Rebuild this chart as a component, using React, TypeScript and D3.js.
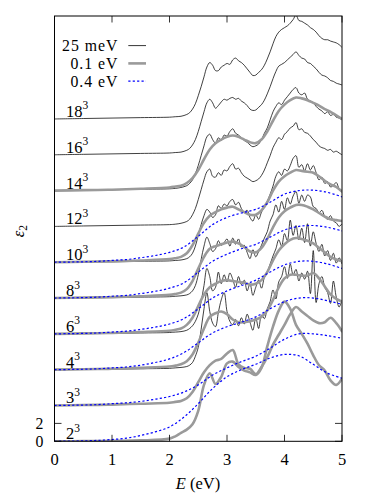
import * as d3 from 'd3';

// energy grids (eV)
const energyFine = [0, 0.5, 1, 1.5, 2, 2.1, 2.2,
  2.3, 2.35, 2.4, 2.45, 2.5, 2.55, 2.6, 2.65, 2.7, 2.75,
  2.8, 2.85, 2.9, 2.95, 3, 3.05, 3.1, 3.15, 3.2, 3.25,
  3.3, 3.35, 3.4, 3.45, 3.5, 3.55, 3.6, 3.65, 3.7, 3.75,
  3.8, 3.85, 3.9, 3.95, 4, 4.05, 4.1, 4.15, 4.2, 4.25,
  4.3, 4.35, 4.4, 4.45, 4.5, 4.55, 4.6, 4.65, 4.7, 4.75,
  4.8, 4.85, 4.9, 4.95, 5];
const energyGray = [0, 0.5, 1, 1.5,
  2, 2.1, 2.2, 2.3, 2.4, 2.5, 2.6, 2.7, 2.8, 2.9,
  3, 3.1, 3.2, 3.3, 3.4, 3.5, 3.6, 3.7, 3.8, 3.9,
  4, 4.1, 4.2, 4.3, 4.4, 4.5, 4.6, 4.7, 4.8, 4.9, 5];
const energyBlue = [0, 0.25, 0.5, 0.75, 1, 1.25, 1.5, 1.75, 2, 2.25, 2.5,
  2.75, 3, 3.25, 3.5, 3.75, 4, 4.25, 4.5, 4.75, 5];

// k-point grids and their vertical offsets
const gridLabels = ['2', '3', '4', '6', '8', '10', '12', '14', '16', '18'];
const gridOffsets = [0, 4, 8, 12, 16, 20, 24, 28, 32, 36];

// 25 meV broadening
const black18 = [0, 0.05, 0.1, 0.15, 0.2, 0.25, 0.3,
  0.5, 0.7, 1.1, 1.7, 2.6, 3.6, 4.7, 5.8, 6.3, 6.0,
  5.4, 5.4, 5.8, 6.0, 6.2, 6.1, 6.6, 6.8, 6.5, 6.3,
  6.0, 5.6, 5.2, 4.85, 4.9, 5.2, 5.5, 6.0, 6.7, 7.5,
  8.4, 9.2, 9.7, 10.0, 10.2, 10.4, 10.7, 11.1, 11.6, 11.0,
  10.9, 10.7, 10.5, 10.2, 10.0, 9.7, 9.3, 9.0, 8.85, 8.85,
  8.7, 8.6, 8.5, 8.3, 8.0];
const black16 = [0, 0.05, 0.1, 0.15, 0.2, 0.25, 0.3,
  0.5, 0.7, 1.1, 1.7, 2.6, 3.7, 4.8, 5.8, 6.2, 5.8,
  5.2, 5.5, 5.9, 6.2, 6.1, 6.3, 6.4, 6.2, 6.3, 6.0,
  5.8, 5.5, 5.1, 4.95, 5.0, 5.3, 5.6, 6.1, 6.8, 7.6,
  8.5, 9.3, 9.9, 10.1, 10.3, 10.6, 10.9, 11.2, 11.5, 11.1,
  10.8, 10.7, 10.3, 10.2, 9.9, 9.6, 9.2, 8.9, 8.8, 8.6,
  8.3, 8.2, 8.0, 7.9, 7.8];
const black14 = [0, 0.05, 0.1, 0.15, 0.2, 0.25, 0.35,
  0.55, 0.8, 1.2, 1.9, 2.8, 3.9, 5.0, 6.0, 6.3, 5.7,
  5.3, 5.9, 5.6, 6.2, 6.1, 6.6, 6.9, 6.4, 6.2, 5.9,
  5.6, 5.4, 5.1, 4.9, 5.0, 5.2, 5.7, 6.4, 7.0, 7.9,
  8.8, 9.4, 9.8, 9.6, 10.1, 10.5, 10.9, 11.3, 11.5, 10.9,
  10.7, 10.9, 10.2, 10.0, 9.8, 9.4, 9.1, 8.9, 8.6, 8.8,
  8.4, 8.5, 8.2, 8.1, 7.9];
const black12 = [0, 0.05, 0.1, 0.15, 0.2, 0.25, 0.35,
  0.55, 0.8, 1.3, 2.0, 3.0, 4.1, 5.2, 6.1, 6.4, 5.6,
  5.5, 6.0, 5.7, 6.3, 6.2, 6.7, 7.0, 6.4, 6.5, 6.0,
  5.6, 5.4, 5.2, 5.0, 5.1, 5.3, 5.7, 6.3, 7.1, 7.9,
  8.8, 9.4, 9.9, 9.7, 10.3, 10.6, 11.0, 11.2, 11.6, 10.8,
  10.9, 10.5, 10.4, 10.1, 9.7, 9.4, 9.0, 8.8, 8.7, 8.5,
  8.6, 8.3, 8.4, 8.2, 8.0];
const black10 = [0, 0.02, 0.05, 0.1, 0.15, 0.2, 0.25,
  0.4, 0.6, 1.0, 1.8, 3.0, 4.2, 5.2, 5.9, 5.6, 5.0,
  5.3, 6.3, 6.0, 6.5, 6.3, 6.8, 7.0, 6.4, 6.7, 6.0,
  5.6, 5.8, 5.0, 4.6, 5.3, 4.8, 5.6, 6.2, 6.8, 7.6,
  8.5, 9.6, 10.1, 9.7, 10.4, 10.2, 10.8, 11.6, 11.9, 10.6,
  10.9, 10.2, 11.0, 10.3, 10.8, 10.0, 9.2, 9.5, 8.8, 9.0,
  8.4, 8.6, 8.9, 8.2, 7.9];
const black8 = [0, 0.02, 0.05, 0.1, 0.15, 0.2, 0.25,
  0.35, 0.5, 0.8, 1.4, 2.6, 4.3, 5.8, 6.8, 6.1, 5.2,
  5.5, 6.4, 5.9, 6.2, 6.6, 5.8, 6.7, 6.0, 6.6, 5.7,
  5.9, 5.1, 4.4, 5.4, 4.6, 5.2, 5.9, 6.7, 7.4, 8.6,
  9.3, 10.4, 9.6, 10.8, 9.9, 11.2, 10.5, 11.4, 11.9, 10.6,
  11.5, 10.8, 11.5, 11.3, 10.2, 10.0, 9.5, 9.8, 9.1, 8.8,
  9.2, 8.6, 8.4, 8.0, 8.3];
const black6 = [0, 0.02, 0.05, 0.1, 0.15, 0.2, 0.25,
  0.4, 0.6, 0.9, 1.4, 2.2, 3.6, 5.4, 7.3, 6.4, 4.8,
  5.2, 6.9, 5.6, 6.6, 5.8, 6.8, 6.1, 5.2, 6.4, 5.5,
  6.0, 4.8, 5.6, 4.3, 5.2, 6.0, 5.1, 6.3, 6.9, 7.8,
  8.7, 9.5, 10.5, 9.8, 11.2, 10.4, 12.7, 11.0, 12.1, 10.5,
  11.8, 10.2, 12.3, 9.8, 11.4, 10.1, 9.2, 10.0, 8.7, 9.3,
  8.2, 9.0, 7.9, 8.5, 7.8];
const black4 = [0, 0.02, 0.05, 0.1, 0.15, 0.2, 0.25,
  0.35, 0.5, 0.8, 1.5, 2.5, 4.5, 6.8, 8.6, 6.5, 5.2,
  4.8, 6.4, 7.8, 8.6, 6.5, 5.4, 5.0, 5.6, 4.9, 5.8,
  5.1, 6.2, 5.3, 4.4, 5.8, 4.6, 6.1, 5.7, 6.8, 7.6,
  8.9, 7.9, 9.8, 10.4, 11.5, 10.2, 11.8, 10.6, 11.2, 9.9,
  10.8, 10.1, 11.0, 8.5, 13.3, 7.5, 9.6, 10.4, 9.2, 8.6,
  7.4, 9.9, 8.1, 7.0, 7.8];

// 0.1 eV broadening
const gray14 = [0, 0.05, 0.1, 0.2,
  0.35, 0.45, 0.55, 0.85, 1.4, 2.3, 3.5, 4.6, 5.3, 5.7,
  6.0, 6.15, 6.0, 5.7, 5.4, 5.3, 5.7, 6.6, 7.8, 8.9,
  9.6, 10.1, 10.4, 10.3, 10.1, 9.8, 9.5, 9.1, 8.8, 8.4, 8.0];
const gray10 = [0, 0.05, 0.1, 0.2,
  0.35, 0.45, 0.6, 1.0, 1.9, 3.2, 4.4, 5.2, 5.6, 5.9,
  6.1, 6.2, 5.9, 5.6, 5.3, 5.3, 5.8, 6.7, 8.0, 9.0,
  9.6, 10.0, 10.3, 10.2, 10.1, 10.0, 9.6, 9.1, 8.7, 8.4, 7.9];
const gray8 = [0, 0.05, 0.1, 0.2,
  0.35, 0.45, 0.6, 1.0, 1.9, 3.3, 4.6, 5.5, 5.8, 6.0,
  6.2, 6.3, 6.1, 5.7, 5.2, 5.1, 5.6, 6.6, 7.9, 9.0,
  9.7, 10.1, 10.4, 10.4, 10.2, 9.9, 9.5, 9.1, 8.8, 8.7, 8.6];
const gray6 = [0, 0.05, 0.1, 0.2,
  0.35, 0.45, 0.6, 1.0, 1.8, 3.1, 4.4, 5.2, 5.6, 5.9,
  6.0, 5.9, 5.8, 5.7, 5.5, 5.6, 6.0, 6.9, 8.2, 9.3,
  10.0, 10.5, 10.7, 10.6, 10.4, 10.1, 9.6, 9.1, 8.6, 8.3, 8.1];
const gray4 = [0, 0.05, 0.1, 0.2,
  0.35, 0.45, 0.6, 0.95, 1.7, 3.0, 4.6, 5.9, 6.3, 6.5,
  6.2, 5.6, 5.3, 5.3, 5.4, 5.6, 5.9, 6.6, 7.8, 9.2,
  10.2, 10.6, 10.6, 10.5, 10.5, 10.8, 10.2, 9.3, 8.4, 7.9, 7.6];
const gray3 = [0, 0.05, 0.1, 0.2,
  0.3, 0.4, 0.5, 0.8, 1.5, 2.6, 3.7, 4.5, 5.0, 5.2,
  5.8, 6.2, 4.6, 4.2, 4.1, 3.5, 4.3, 5.4, 6.8, 7.9,
  9.0, 10.2, 11.0, 10.5, 10.0, 9.5, 9.2, 9.3, 9.8, 9.2, 8.3];
const gray2 = [0, 0.02, 0.05, 0.1,
  0.3, 0.55, 0.95, 1.3, 1.9, 3.4, 6.3, 7.6, 6.4, 7.2,
  8.7, 8.9, 8.3, 7.9, 7.7, 7.4, 8.2, 10.6, 12.8, 14.6,
  15.6, 14.8, 13.0, 12.0, 10.9, 9.6, 8.5, 7.9, 6.8, 6.3, 7.0];

// 0.4 eV broadening
const blue10 = [0, 0.02, 0.05, 0.1, 0.2, 0.3, 0.5, 0.75, 1.1, 1.7, 2.9,
  4.2, 5.0, 5.5, 5.9, 6.7, 7.6, 8.0, 8.05, 7.8, 7.3];
const blue8 = [0, 0.02, 0.05, 0.1, 0.2, 0.3, 0.5, 0.75, 1.1, 1.7, 2.9,
  4.1, 4.9, 5.5, 6.0, 6.8, 7.6, 8.0, 8.1, 7.9, 7.5];
const blue6 = [0, 0.02, 0.05, 0.1, 0.2, 0.3, 0.5, 0.75, 1.1, 1.7, 2.8,
  4.0, 4.8, 5.4, 6.0, 6.9, 7.7, 8.1, 8.1, 7.8, 7.3];
const blue4 = [0, 0.02, 0.05, 0.1, 0.2, 0.3, 0.5, 0.8, 1.2, 1.9, 3.0,
  4.1, 4.8, 5.3, 5.9, 6.8, 7.6, 8.0, 8.0, 7.7, 7.3];
const blue3 = [0, 0.02, 0.05, 0.1, 0.2, 0.3, 0.45, 0.7, 1.0, 1.5, 2.3,
  3.4, 4.2, 4.9, 5.5, 6.4, 7.4, 8.0, 8.0, 7.8, 7.5];
const blue2 = [0, 0.02, 0.05, 0.1, 0.2, 0.35, 0.65, 1.05, 1.6, 2.7, 4.2,
  5.9, 7.2, 8.0, 8.6, 9.3, 9.7, 9.55, 8.6, 7.6, 7.05];

const xTicks = [0, 1, 2, 3, 4, 5];
const yTicks = [0, 2];
const legendLabels = ['25 meV', '0.1 eV', '0.4 eV'];

const blackSeries = [
  { grid: '18', values: black18 }, { grid: '16', values: black16 },
  { grid: '14', values: black14 }, { grid: '12', values: black12 },
  { grid: '10', values: black10 }, { grid: '8', values: black8 },
  { grid: '6', values: black6 }, { grid: '4', values: black4 },
];
const graySeries = [
  { grid: '14', values: gray14 }, { grid: '10', values: gray10 },
  { grid: '8', values: gray8 }, { grid: '6', values: gray6 },
  { grid: '4', values: gray4 }, { grid: '3', values: gray3 },
  { grid: '2', values: gray2 },
];
const blueSeries = [
  { grid: '10', values: blue10 }, { grid: '8', values: blue8 },
  { grid: '6', values: blue6 }, { grid: '4', values: blue4 },
  { grid: '3', values: blue3 }, { grid: '2', values: blue2 },
];

const FONT = "'Liberation Serif', monospace";
const GRAY = '#9a9a9a';
const BLUE = '#0000ff';
const FS = 15.8;
const txt = { fontFamily: FONT };

export default function App() {
  const W = 374, H = 498;
  const left = 54.5, right = 342, top = 16, bottom = 441.3;

  const x = d3.scaleLinear().domain([0, 5]).range([left, right]);
  const y = d3.scaleLinear().domain([0, 47.5]).range([bottom, top]);

  const offsetOf = (g: string) => gridOffsets[gridLabels.indexOf(g)];
  const pathFor = (energies: number[], values: number[], g: string) => {
    const off = offsetOf(g);
    return d3.line<number>()
      .x((_, i) => x(energies[i]))
      .y(v => y(off + v))
      .curve(d3.curveCatmullRom.alpha(0.5))(values) || '';
  };

  const legendX0 = 128.3, legendX1 = 146;
  const legendRows = [
    { y: 51, stroke: '#000', width: 0.8, dash: undefined },
    { y: 68.8, stroke: GRAY, width: 2.6, dash: undefined },
    { y: 86.6, stroke: BLUE, width: 1.2, dash: '2.2,2.2' },
  ];

  return (
    <svg width={W} height={H} style={{ position: 'absolute', left: 0, top: 0, background: '#fff' }}>
      <defs>
        <clipPath id="plotClip">
          <rect x={left} y={top} width={right - left} height={bottom - top} />
        </clipPath>
      </defs>

      <g clipPath="url(#plotClip)" fill="none">
        {blackSeries.map(s => (
          <path key={'k' + s.grid} d={pathFor(energyFine, s.values, s.grid)}
            stroke="#000" strokeWidth={0.75} strokeLinejoin="round" />
        ))}
        {graySeries.map(s => (
          <path key={'g' + s.grid} d={pathFor(energyGray, s.values, s.grid)}
            stroke={GRAY} strokeWidth={2.6} strokeLinejoin="round" strokeLinecap="round" />
        ))}
        {blueSeries.map(s => (
          <path key={'b' + s.grid} d={pathFor(energyBlue, s.values, s.grid)}
            stroke={BLUE} strokeWidth={1.2} strokeDasharray="2.2,2.2" />
        ))}
      </g>

      {/* grid labels */}
      {gridLabels.map((g, i) => (
        <text key={'l' + g} x={66} y={y(gridOffsets[i]) - 2} fontSize={16.5} style={txt}>
          {g}<tspan dy={-7.5} fontSize={11.5}>3</tspan>
        </text>
      ))}

      {/* legend */}
      {legendLabels.map((t, i) => (
        <g key={'leg' + i}>
          <text x={118.5} y={legendRows[i].y} fontSize={FS} textAnchor="end"
            style={{ ...txt, letterSpacing: '1px' }}>{t}</text>
          <line x1={legendX0} x2={legendX1} y1={legendRows[i].y - 5.4} y2={legendRows[i].y - 5.4}
            stroke={legendRows[i].stroke} strokeWidth={legendRows[i].width}
            strokeDasharray={legendRows[i].dash} />
        </g>
      ))}

      {/* frame */}
      <rect x={left} y={top} width={right - left} height={bottom - top} fill="none" stroke="#000" strokeWidth={1} />

      {/* x ticks */}
      {xTicks.map(t => (
        <g key={'xt' + t}>
          <line x1={x(t)} x2={x(t)} y1={bottom} y2={bottom - 6.5} stroke="#000" strokeWidth={0.8} />
          <line x1={x(t)} x2={x(t)} y1={top} y2={top + 6.5} stroke="#000" strokeWidth={0.8} />
          <text x={x(t)} y={465} fontSize={16.5} textAnchor="middle" style={txt}>{t}</text>
        </g>
      ))}

      {/* y ticks */}
      {yTicks.map(t => (
        <g key={'yt' + t}>
          <line x1={left} x2={left + 7} y1={y(t)} y2={y(t)} stroke="#000" strokeWidth={0.8} />
          <line x1={right} x2={right - 7} y1={y(t)} y2={y(t)} stroke="#000" strokeWidth={0.8} />
          <text x={43.5} y={y(t) + 5.2} fontSize={FS} textAnchor="end" style={txt}>{t}</text>
        </g>
      ))}

      {/* axis titles */}
      <text x={198} y={489} fontSize={16.5} textAnchor="middle" style={txt}>
        <tspan fontStyle="italic">E</tspan> (eV)
      </text>
      <text transform="translate(24,231) rotate(-90)" fontSize={16.5} textAnchor="middle" style={txt}>
        <tspan fontStyle="italic">ε</tspan><tspan dy={3} fontSize={11.5}>2</tspan>
      </text>
    </svg>
  );
}
